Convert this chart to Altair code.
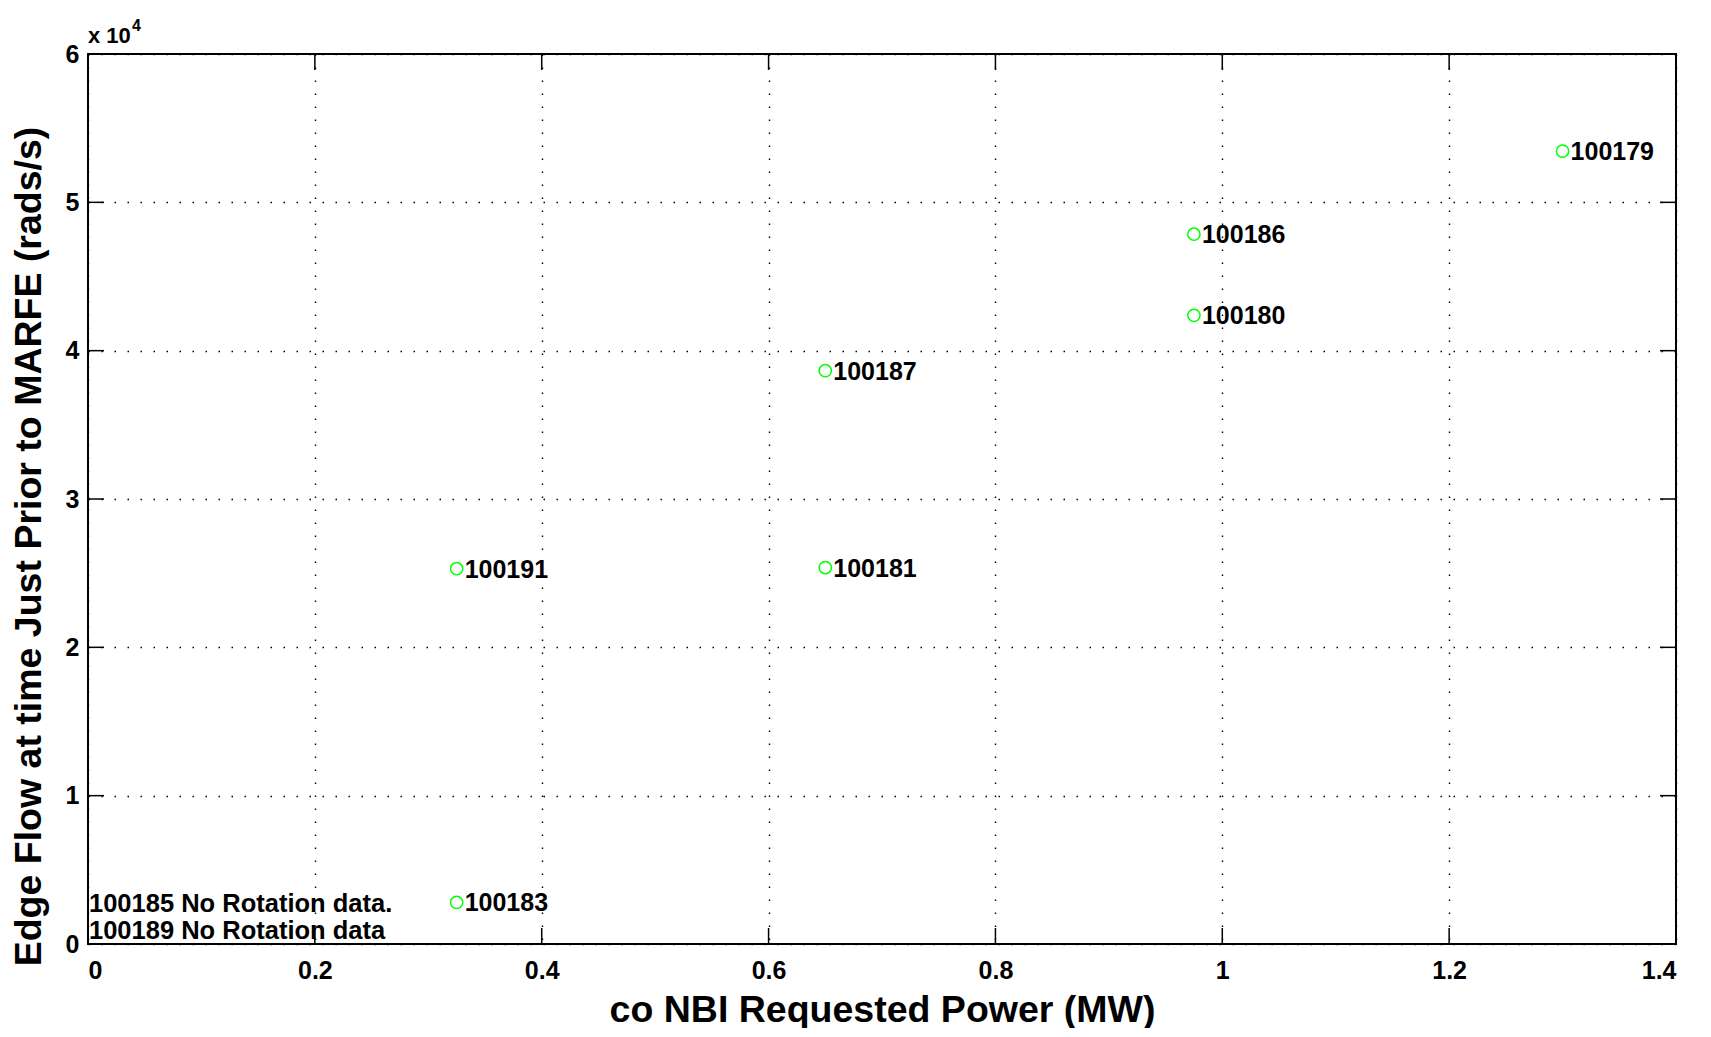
import altair as alt
import pandas as pd

# ---- data ----
shots = ["100179", "100186", "100180", "100187", "100191", "100181", "100183"]
power_mw = [1.30, 0.975, 0.975, 0.65, 0.325, 0.65, 0.325]
edge_flow = [53450, 47850, 42380, 38650, 25300, 25380, 2800]

notes = ["100185 No Rotation data.", "100189 No Rotation data"]
note_x = [0.0, 0.0]
note_y = [2730, 890]

x_ticks = [0, 0.2, 0.4, 0.6, 0.8, 1.0, 1.2, 1.4]
y_ticks = [0, 10000, 20000, 30000, 40000, 50000, 60000]

W, H = 1588, 890
FONT = "Liberation Sans, Arial, Helvetica, sans-serif"

df = pd.DataFrame({"shot": shots, "power": power_mw, "flow": edge_flow})
df_notes = pd.DataFrame({"note": notes, "x": note_x, "y": note_y})
df_xt = pd.DataFrame({"v": x_ticks})
df_yt = pd.DataFrame({"v": y_ticks})

xs = alt.Scale(domain=[0, 1.4], nice=False, zero=False)
ys = alt.Scale(domain=[0, 60000], nice=False, zero=False)

x_axis = alt.Axis(
    values=x_ticks, format="~g", title="co NBI Requested Power (MW)",
    grid=True, gridColor="black", gridDash=[1.5, 11.5], gridWidth=1.4, gridOpacity=1,
    ticks=False, tickSize=0, domain=False,
    labelFont=FONT, labelFontSize=25, labelFontWeight="bold", labelColor="black",
    labelBaseline="alphabetic", labelPadding=34,
    titleFont=FONT, titleFontSize=37.5, titleFontWeight="bold", titleColor="black",
    titleBaseline="alphabetic", titleY=77, titleX=W / 2, titleAlign="center",
)
y_axis = alt.Axis(
    values=y_ticks, labelExpr="datum.value / 10000",
    title="Edge Flow at time Just Prior to MARFE (rads/s)",
    grid=True, gridColor="black", gridDash=[1.5, 11.5], gridWidth=1.4, gridOpacity=1,
    ticks=False, tickSize=0, domain=False,
    labelFont=FONT, labelFontSize=25, labelFontWeight="bold", labelColor="black",
    labelPadding=9,
    titleFont=FONT, titleFontSize=37.5, titleFontWeight="bold", titleColor="black",
    titleAngle=270, titleAlign="center", titleBaseline="middle",
    titleX=-59, titleY=492,
)

base = alt.Chart(df)

points = base.mark_point(
    shape="circle", filled=False, color="#00ff00", size=150, strokeWidth=1.5, opacity=1
).encode(
    x=alt.X("power:Q", scale=xs, axis=x_axis),
    y=alt.Y("flow:Q", scale=ys, axis=y_axis),
)

labels = base.mark_text(
    align="left", baseline="middle", dx=8, dy=1, font=FONT, fontSize=25,
    fontWeight="bold", color="black"
).encode(
    x=alt.X("power:Q", scale=xs),
    y=alt.Y("flow:Q", scale=ys),
    text="shot:N",
)

note_text = alt.Chart(df_notes).mark_text(
    align="left", baseline="middle", dx=1, font=FONT, fontSize=25.5,
    fontWeight="bold", color="black"
).encode(
    x=alt.X("x:Q", scale=xs),
    y=alt.Y("y:Q", scale=ys),
    text="note:N",
)

tick_len = 16
xt_bottom = alt.Chart(df_xt).mark_rule(color="black", strokeWidth=1.5).encode(
    x=alt.X("v:Q", scale=xs), y=alt.value(H), y2=alt.value(H - tick_len)
)
xt_top = alt.Chart(df_xt).mark_rule(color="black", strokeWidth=1.5).encode(
    x=alt.X("v:Q", scale=xs), y=alt.value(0), y2=alt.value(tick_len)
)
yt_left = alt.Chart(df_yt).mark_rule(color="black", strokeWidth=1.5).encode(
    y=alt.Y("v:Q", scale=ys), x=alt.value(0), x2=alt.value(tick_len)
)
yt_right = alt.Chart(df_yt).mark_rule(color="black", strokeWidth=1.5).encode(
    y=alt.Y("v:Q", scale=ys), x=alt.value(W), x2=alt.value(W - tick_len)
)

exp_base = alt.Chart(pd.DataFrame({"t": ["x 10"]})).mark_text(
    align="left", baseline="alphabetic", font=FONT, fontSize=22, fontWeight="bold",
    color="black"
).encode(x=alt.value(0), y=alt.value(-11), text="t:N")
exp_sup = alt.Chart(pd.DataFrame({"t": ["4"]})).mark_text(
    align="left", baseline="alphabetic", font=FONT, fontSize=16, fontWeight="bold",
    color="black"
).encode(x=alt.value(44), y=alt.value(-23), text="t:N")

chart = alt.layer(
    points, xt_bottom, xt_top, yt_left, yt_right, labels, note_text, exp_base, exp_sup
).properties(
    width=W, height=H,
    autosize=alt.AutoSizeParams(type="none"),
    padding={"left": 80, "top": 46, "right": 20, "bottom": 84},
    background="white",
).configure_view(
    stroke="black", strokeWidth=2
)

chart.save("out.html", embed_options={"renderer": "svg", "actions": False})
